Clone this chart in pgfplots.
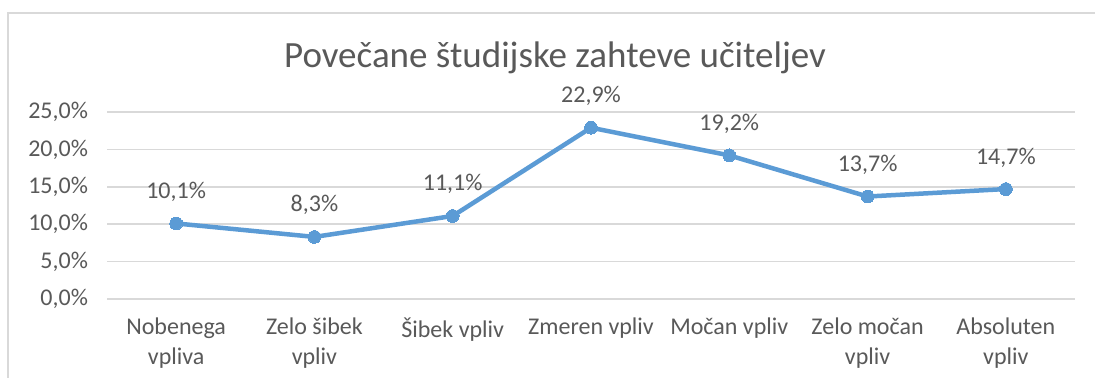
\documentclass[border=0pt]{standalone}
\usepackage{fontspec}
\setmainfont{Carlito}
\usepackage{pgfplots}
\pgfplotsset{compat=1.18}
\definecolor{linecol}{HTML}{5B9BD5}
\definecolor{gridcol}{HTML}{D9D9D9}
\definecolor{txtcol}{HTML}{595959}
\begin{document}
\begin{tikzpicture}
\useasboundingbox (0,0) rectangle (547.5pt,189pt);
\fill[white] (0,0) rectangle (547.5pt,189pt);
% chart frame (left and top edges)
\draw[gridcol, line width=0.9pt] (4pt,0) -- (4pt,182.5pt) -- (548pt,182.5pt);
% title
\node[text=txtcol, font=\fontsize{18.5}{22}\selectfont] at (277.5pt,160pt) {Povečane študijske zahteve učiteljev};
\begin{axis}[
  at={(53.5pt,39.5pt)}, anchor=south west,
  scale only axis, width=484pt, height=93.5pt,
  xmin=-0.5, xmax=6.5, ymin=0, ymax=25,
  axis line style={draw=none},
  major tick length=0pt,
  ytick={0,5,10,15,20,25},
  ymajorgrids, grid style={gridcol, line width=0.75pt},
  xtick=data,
  xticklabels={{Nobenega\\vpliva},{Zelo šibek\\vpliv},{Šibek vpliv\\~},{Zmeren vpliv\\~},{Močan vpliv\\~},{Zelo močan\\vpliv},{Absoluten\\vpliv}},
  xticklabel style={align=center, text=txtcol, font=\fontsize{12}{15}\selectfont, yshift=-6pt,
    execute at begin node={\vphantom{Š}}},
  yticklabel style={text=txtcol, font=\fontsize{12}{14}\selectfont, xshift=-6pt},
  /pgf/number format/assume math mode=true,
  yticklabel={\pgfmathprintnumber[fixed,fixed zerofill,precision=1,use comma]{\tick}\%},
  nodes near coords={\pgfmathprintnumber[fixed,fixed zerofill,precision=1,use comma]{\pgfplotspointmeta}\%},
  nodes near coords style={anchor=base, yshift=12.5pt, text=txtcol, font=\fontsize{12}{14}\selectfont, inner sep=0pt},
  clip=false,
]
\addplot[linecol, line width=2.25pt, mark=*, mark size=3.2pt, mark options={fill=linecol, draw=linecol, line width=0pt}]
  coordinates {(0,10.1) (1,8.3) (2,11.1) (3,22.9) (4,19.2) (5,13.7) (6,14.7)};
\end{axis}
\end{tikzpicture}
\end{document}
